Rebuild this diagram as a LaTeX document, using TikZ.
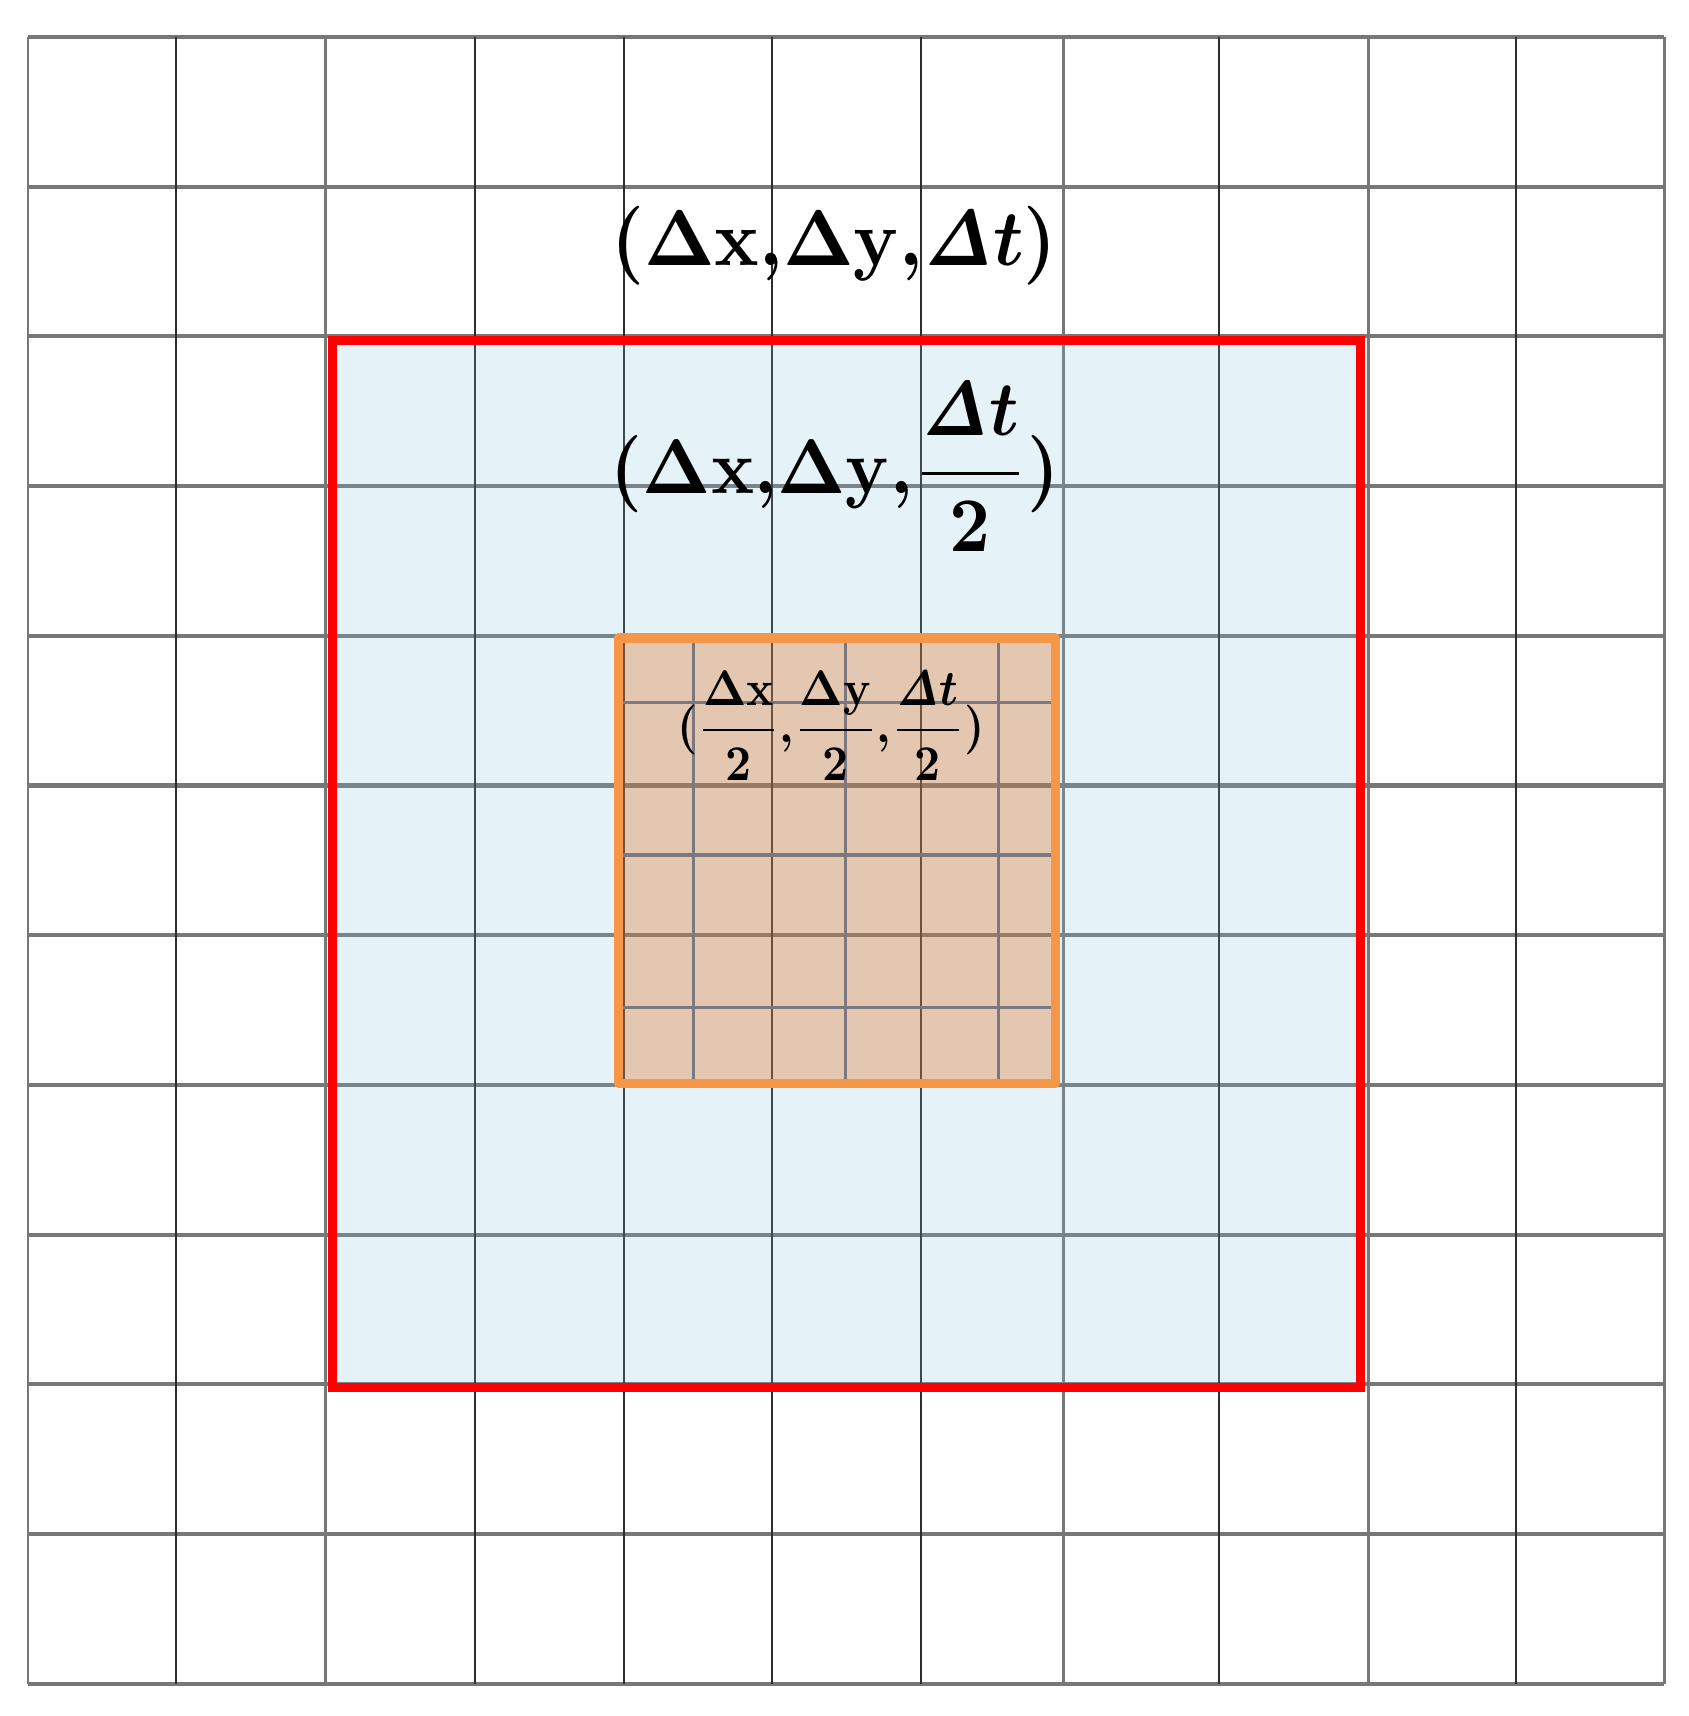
\documentclass[tikz,border=0pt]{standalone}
\usepackage{amsmath}
\definecolor{gridgray}{RGB}{119,119,119}
\definecolor{griddark}{RGB}{45,45,45}
\definecolor{bluefill}{RGB}{125,190,220}
\definecolor{orangefill}{RGB}{226,100,10}
\definecolor{orangeline}{RGB}{245,150,72}
\definecolor{finegray}{RGB}{123,120,128}
\tikzset{
  hline/.style={draw=gridgray, line width=1.14pt},
  vgray/.style={draw=gridgray, line width=0.85pt},
  vdark/.style={draw=griddark, line width=0.57pt},
  fineline/.style={draw=finegray, line width=1pt},
  bigbox/.style={draw=red, line width=2.56pt},
  smallbox/.style={draw=orangeline, line width=2.56pt, line join=round},
  lbl/.style={inner sep=0pt, outer sep=0pt, font=\boldmath}
}
\begin{document}
\begin{tikzpicture}[x=0.01cm,y=-0.01cm]
\useasboundingbox (0,0) rectangle (1688,1716);
% coarse grid
\foreach \yy in {37,186.7,336.4,486.1,635.8,785.5,935.2,1084.9,1234.6,1384.3,1534,1683.7}
  \draw[hline] (28,\yy) -- (1664,\yy);
\foreach \xx in {176,474.5,623.5,772,920.5,1219,1516}
  \draw[vdark] (\xx,37) -- (\xx,1683.7);
\foreach \xx in {28,325,1063.5,1368,1664}
  \draw[vgray] (\xx,37) -- (\xx,1683.7);
% light blue region
\fill[bluefill, fill opacity=0.2] (332.5,341) rectangle (1360.5,1387);
% orange region
\fill[orangefill, fill opacity=0.3] (618,638) rectangle (1055,1083.5);
% fine grid
\foreach \xx in {693.3,845.7,998.3}
  \draw[fineline] (\xx,642.5) -- (\xx,1079);
\foreach \yy in {702.3,855,1007.3}
  \draw[fineline] (622.5,\yy) -- (1050.5,\yy);
% borders
\draw[smallbox] (618,638) rectangle (1055,1083.5);
\draw[bigbox] (332.5,341) rectangle (1360.5,1387);
% labels
\node[lbl, xscale=2.1, yscale=2.25] (top) at (834,246) {$(\mathrm{\Delta x}{,}\mathrm{\Delta y}{,}\mathit{\Delta}t)$};
\node[lbl, xscale=2.03, yscale=2.2] (mid) at (835,467) {$\displaystyle(\mathrm{\Delta x}{,}\mathrm{\Delta y}{,}\frac{\mathit{\Delta}t}{2})$};
\node[lbl, xscale=1.29, yscale=1.42] (inner) at (831,726) {$\displaystyle(\frac{\mathrm{\Delta x}}{2}{,}\frac{\mathrm{\Delta y}}{2}{,}\frac{\mathit{\Delta}t}{2})$};
\end{tikzpicture}
\end{document}
